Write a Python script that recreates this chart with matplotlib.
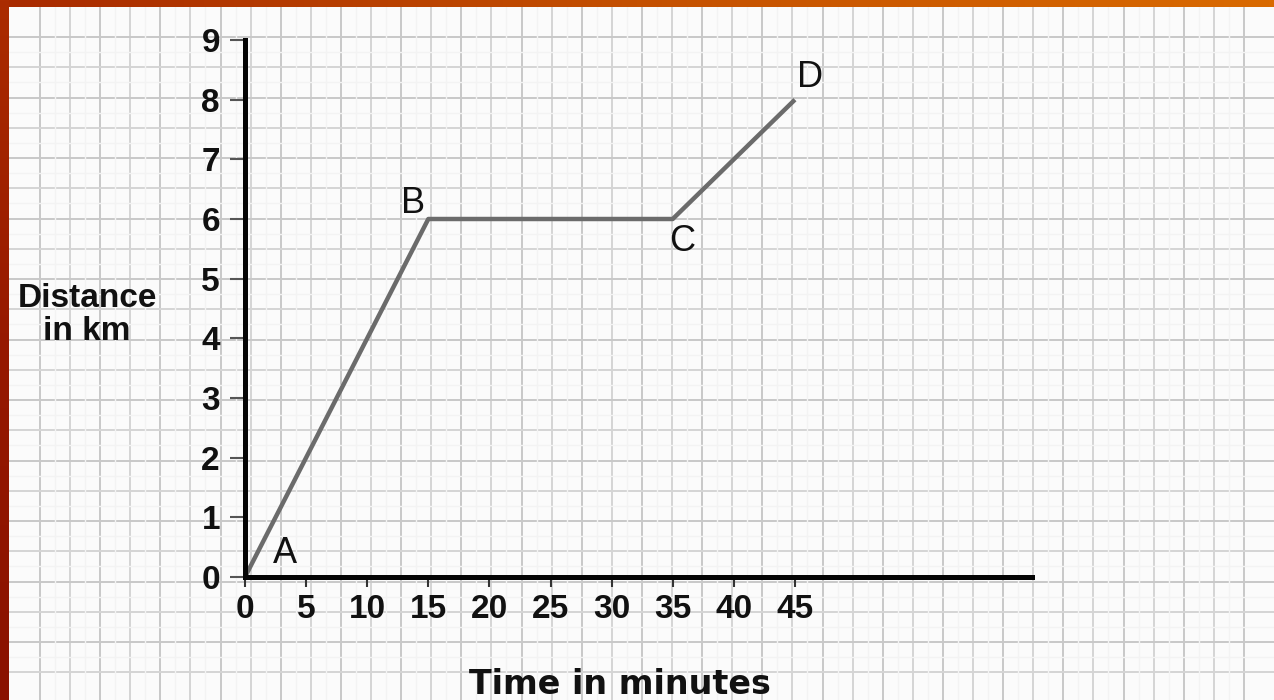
import numpy as np
import matplotlib
matplotlib.use("Agg")
import matplotlib.pyplot as plt
from matplotlib.colors import LinearSegmentedColormap

plt.rcParams['font.family'] = ['Liberation Sans', 'DejaVu Sans']

# journey data: time (minutes) against distance (km)
time_min = [0, 15, 35, 45]
distance_km = [0, 6, 6, 8]
point_names = ["A", "B", "C", "D"]
# where each letter sits relative to its point (points)
name_offsets = [(29, 17), (-11, 11), (7, -16), (11, 16)]

x_ticks = [0, 5, 10, 15, 20, 25, 30, 35, 40, 45]
y_ticks = [0, 1, 2, 3, 4, 5, 6, 7, 8, 9]

W, H = 1274, 700
fig = plt.figure(figsize=(W / 100, H / 100), dpi=100)

# ---- graph paper background, drawn in pixel units ----
bg = fig.add_axes([0, 0, 1, 1], zorder=0)
bg.set_xlim(0, W)
bg.set_ylim(H, 0)
bg.axis("off")
bg.add_patch(plt.Rectangle((0, 0), W, H, color="#fbfbfb", lw=0))

gx = np.arange(40, W, 30.1)
gy = np.arange(37, H, 30.25)
for i, x in enumerate(gx):
    c = "#c8c8c8" if i % 2 == 0 else "#d4d4d4"
    bg.vlines(x, 0, H, color=c, lw=1.4)
for i, y in enumerate(gy):
    c = "#c8c8c8" if i % 2 == 0 else "#d4d4d4"
    bg.hlines(y, 0, W, color=c, lw=1.4)
# very faint texture between the main lines
for x in gx[:-1] + 15:
    bg.vlines(x, 0, H, color="#f3f3f3", lw=1.0)
for y in gy[:-1] + 15:
    bg.hlines(y, 0, W, color="#f3f3f3", lw=1.0)

# slide frame: orange band on top, dark red band on the left
top_cmap = LinearSegmentedColormap.from_list("top", ["#a82a00", "#c45000", "#d96a00"])
bg.imshow(np.linspace(0, 1, 256)[None, :], cmap=top_cmap, aspect="auto",
          extent=(0, W, 7, 0), zorder=5)
left_cmap = LinearSegmentedColormap.from_list("left", ["#ab2c00", "#961800", "#8a1200"])
bg.imshow(np.linspace(0, 1, 256)[:, None], cmap=left_cmap, aspect="auto",
          extent=(0, 9, H, 0), zorder=5)
bg.set_xlim(0, W)
bg.set_ylim(H, 0)

# ---- the distance-time graph ----
ax = fig.add_axes([245 / W, 1 - 577 / H, (1032 - 245) / W, (577 - 40) / H], zorder=2)
ax.patch.set_alpha(0)
ax.set_xlim(0, 64.4)
ax.set_ylim(0, 9)

ax.plot(time_min, distance_km, color="#6b6b6b", lw=3.2, clip_on=False, zorder=3,
        solid_capstyle="butt")

for name, t, d, off in zip(point_names, time_min, distance_km, name_offsets):
    ax.annotate(name, (t, d), xytext=off, textcoords="offset points",
                ha="center", va="center", fontsize=26, color="#111111")

for side in ["top", "right"]:
    ax.spines[side].set_visible(False)
for side in ["left", "bottom"]:
    ax.spines[side].set_linewidth(3.6)
    ax.spines[side].set_color("#050505")
    ax.spines[side].set_zorder(4)

ax.set_xticks(x_ticks)
ax.set_yticks(y_ticks)
ax.tick_params(axis="x", direction="out", length=7, width=1.5, color="#333333",
               pad=5, labelsize=24)
ax.tick_params(axis="y", direction="out", length=11, width=1.5, color="#555555",
               pad=7, labelsize=24)
for lab in ax.get_xticklabels() + ax.get_yticklabels():
    lab.set_fontweight("bold")
    lab.set_color("#111111")

fig.text(87 / W, 1 - 315 / H, "Distance\nin km", ha="center", va="center",
         fontsize=24, fontweight="bold", color="#111111", linespacing=1.05)
fig.text(620 / W, 1 - 694 / H, "Time in minutes", ha="center", va="baseline",
         fontsize=24, fontweight="bold", color="#111111", family="DejaVu Sans")

fig.savefig("out.png", dpi=100)
